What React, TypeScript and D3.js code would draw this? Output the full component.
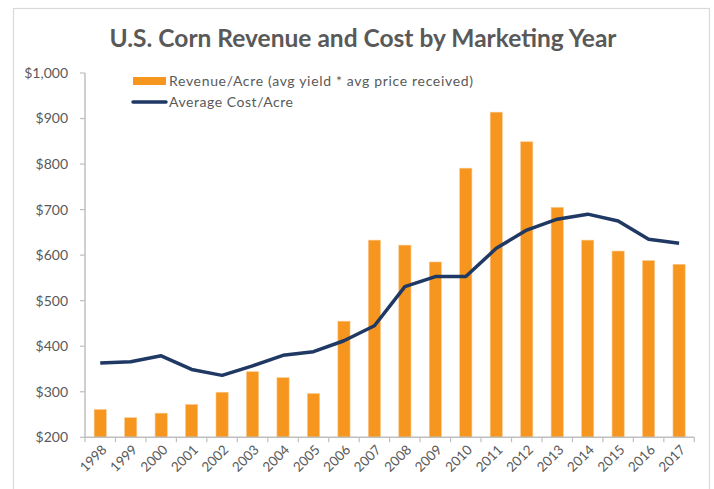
import React from "react";
import * as d3 from "d3";

const years = ["1998","1999","2000","2001","2002","2003","2004","2005","2006","2007","2008","2009","2010","2011","2012","2013","2014","2015","2016","2017"];
const revenue = [261,243,253,272,299,344,331,296,455,633,622,585,791,914,849,705,633,609,588,580];
const cost = [363,366,379,349,336,357,380,388,412,445,531,553,553,615,655,679,690,675,635,626];
const yTicks = [200,300,400,500,600,700,800,900,1000];

const W = 714, H = 489;
const left = 85, right = 694.3, top = 73, bottom = 437.3;
const font = "Lato, 'Open Sans', sans-serif";
const textColor = "#595959";
const axisColor = "#BFBFBF";
const orange = "#F7961E";
const navy = "#1F3864";

export default function App() {
  const x = d3.scaleBand<string>().domain(years).range([left, right]).paddingInner(0.6).paddingOuter(0.3);
  const y = d3.scaleLinear().domain([200, 1000]).range([bottom, top]);
  const step = (right - left) / years.length;
  const line = d3.line<number>()
    .x((_, i) => (x(years[i]) as number) + x.bandwidth() / 2)
    .y((d) => y(d));
  const fmt = (v: number) => "$" + d3.format(",")(v);
  const boundaries = d3.range(years.length + 1).map((k) => left + k * step);

  return (
    <div style={{ position: "absolute", left: 0, top: 0 }}>
      <svg width={W} height={H} style={{ display: "block", background: "#fff" }}>
        <rect x={13.5} y={8.5} width={696} height={520} fill="#fff" stroke="#D9D9D9" strokeWidth={1.2} />
        <text x={363} y={47} textAnchor="middle" fontFamily={font} fontWeight="bold" fontSize={24} fill={textColor} textLength={507} lengthAdjust="spacingAndGlyphs">
          U.S. Corn Revenue and Cost by Marketing Year
        </text>
        {/* y axis */}
        <line x1={left} x2={left} y1={top} y2={bottom} stroke={axisColor} strokeWidth={1.5} />
        {yTicks.map((t) => (
          <g key={t}>
            <line x1={left - 5} x2={left} y1={y(t)} y2={y(t)} stroke={axisColor} strokeWidth={1.2} />
            <text x={68} y={y(t)} dy="0.35em" textAnchor="end" fontFamily={font} fontSize={14} fill={textColor}>
              {fmt(t)}
            </text>
          </g>
        ))}
        {/* bars */}
        {revenue.map((v, i) => (
          <rect key={years[i]} x={x(years[i])} y={y(v)} width={x.bandwidth()} height={y(200) - y(v)} fill={orange} stroke="#FBC98E" strokeWidth={0.6} />
        ))}
        {/* x axis */}
        <line x1={left} x2={right} y1={bottom} y2={bottom} stroke={axisColor} strokeWidth={1.5} />
        {boundaries.map((b, k) => (
          <line key={k} x1={b} x2={b} y1={bottom} y2={bottom + 5} stroke={axisColor} strokeWidth={1.2} />
        ))}
        {years.map((yr) => {
          const cx = (x(yr) as number) + x.bandwidth() / 2 + 4;
          const cy = bottom + 10;
          return (
            <text key={yr} x={cx} y={cy} textAnchor="end" dy="0.35em" transform={`rotate(-45 ${cx} ${cy})`} fontFamily={font} fontSize={13.5} fill={textColor}>
              {yr}
            </text>
          );
        })}
        {/* cost line */}
        <path d={line(cost) || ""} fill="none" stroke={navy} strokeWidth={3.5} strokeLinejoin="round" />
        {/* legend */}
        <rect x={133} y={77} width={33} height={8} fill={orange} />
        <text x={169} y={81} dy="0.35em" fontFamily={font} fontSize={14} fill={textColor} textLength={304} lengthAdjust="spacing">
          Revenue/Acre (avg yield * avg price received)
        </text>
        <line x1={133} x2={166} y1={102} y2={102} stroke={navy} strokeWidth={3.5} strokeLinecap="round" />
        <text x={169} y={102} dy="0.35em" fontFamily={font} fontSize={14} fill={textColor} textLength={124} lengthAdjust="spacing">
          Average Cost/Acre
        </text>
      </svg>
    </div>
  );
}
